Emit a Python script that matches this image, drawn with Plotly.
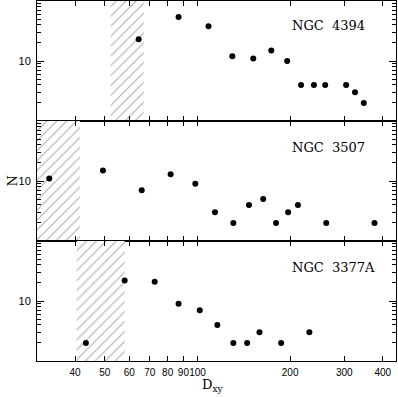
import plotly.graph_objects as go

# number counts N vs projected distance D_xy for three galaxies
ngc4394_d = [64.4, 86.8, 108.6, 129.8, 151.8, 173.7, 195.6, 217, 239, 260, 304, 325, 347]
ngc4394_n = [23, 54, 38, 12, 11, 15, 10, 4, 4, 4, 4, 3, 2]

ngc3507_d = [33, 49.3, 65.9, 81.8, 98.4, 114, 130.8, 147, 163.5, 180, 197, 212, 262, 376]
ngc3507_n = [11, 15, 7, 13, 9, 3, 2, 4, 5, 2, 3, 4, 2, 2]

ngc3377a_d = [43.4, 58, 72.6, 86.8, 101.7, 116, 130.8, 145, 159, 187, 231]
ngc3377a_n = [2, 22, 21, 9, 7, 4, 2, 2, 3, 2, 3]

# hatched (excluded) D_xy intervals per panel
hatch_4394 = [52.3, 66.9]
hatch_3507 = [30.1, 41.5]
hatch_3377a = [40.5, 58]

names = ["NGC  4394", "NGC  3507", "NGC  3377A"]
xticks = [40, 50, 60, 70, 80, 90, 100, 200, 300, 400]
xrange_log = [1.4786, 2.645]
ymin, ymax = 1, 100

panels = [
    (ngc4394_d, ngc4394_n, hatch_4394),
    (ngc3507_d, ngc3507_n, hatch_3507),
    (ngc3377a_d, ngc3377a_n, hatch_3377a),
]

fig = go.Figure()
layout = {}
domains = [[2 / 3, 1.0], [1 / 3, 2 / 3], [0.0, 1 / 3]]
label_y = [0.933, 0.594, 0.261]

for i, (d, n, h) in enumerate(panels):
    k = "" if i == 0 else str(i + 1)
    xa, ya = "x" + k, "y" + k
    fig.add_trace(go.Scatter(
        x=[h[0], h[1], h[1], h[0], h[0]], y=[ymin, ymin, ymax, ymax, ymin],
        xaxis=xa, yaxis=ya, mode="lines", fill="toself",
        line=dict(width=0), fillcolor="white",
        fillpattern=dict(shape="/", fgcolor="#555555", bgcolor="white",
                         size=7, solidity=0.15),
        hoverinfo="skip", showlegend=False))
    fig.add_trace(go.Scatter(
        x=d, y=n, xaxis=xa, yaxis=ya, mode="markers",
        marker=dict(color="black", size=6), showlegend=False))

    layout["xaxis" + k] = dict(
        type="log", range=xrange_log, domain=[0, 1], anchor=ya,
        tickmode="array", tickvals=xticks, ticktext=[str(t) for t in xticks],
        ticks="inside", ticklen=5, tickcolor="black", tickwidth=1,
        showline=True, linecolor="black", linewidth=1, mirror="allticks",
        showgrid=False, zeroline=False, showticklabels=(i == 2),
        tickangle=0, automargin=False, ticklabelstandoff=2,
        tickfont=dict(family="Liberation Sans", size=10, color="#000000"))
    layout["yaxis" + k] = dict(
        type="log", range=[0, 2], domain=domains[i], anchor=xa,
        tickmode="array", tickvals=[10], ticktext=["10"],
        ticks="inside", ticklen=7, tickcolor="black", tickwidth=1,
        minor=dict(tickmode="array",
                   tickvals=[2, 3, 4, 5, 6, 7, 8, 9, 20, 30, 40, 50, 60, 70, 80, 90],
                   ticks="inside", ticklen=4, tickcolor="black", tickwidth=1),
        showline=True, linecolor="black", linewidth=1, mirror="allticks",
        showgrid=False, zeroline=False, automargin=False, ticklabelstandoff=3,
        tickfont=dict(family="Liberation Sans", size=11, color="#000000"))

annotations = []
for i, name in enumerate(names):
    annotations.append(dict(
        text=name, xref="paper", yref="paper", x=0.705, y=label_y[i],
        xanchor="left", yanchor="middle", showarrow=False,
        font=dict(family="DejaVu Serif", size=13, color="black")))
annotations.append(dict(
    text="N", xref="paper", yref="paper", x=0, y=0.5, xshift=-35,
    textangle=-90, showarrow=False,
    font=dict(family="DejaVu Serif", size=13, color="black")))
annotations.append(dict(
    text="D<sub>xy</sub>", xref="paper", yref="paper", x=0.49, y=0,
    yshift=-24, yanchor="middle", showarrow=False,
    font=dict(family="DejaVu Serif", size=13, color="black")))

fig.update_layout(
    width=398, height=397,
    margin=dict(l=37, r=2, t=1, b=36),
    paper_bgcolor="white", plot_bgcolor="white",
    annotations=annotations, **layout)

# the page body has a default 8px margin; drop it so the figure fills the window
fig.write_html("out.html", config={"displayModeBar": False},
               post_script="document.body.style.margin='0';")
